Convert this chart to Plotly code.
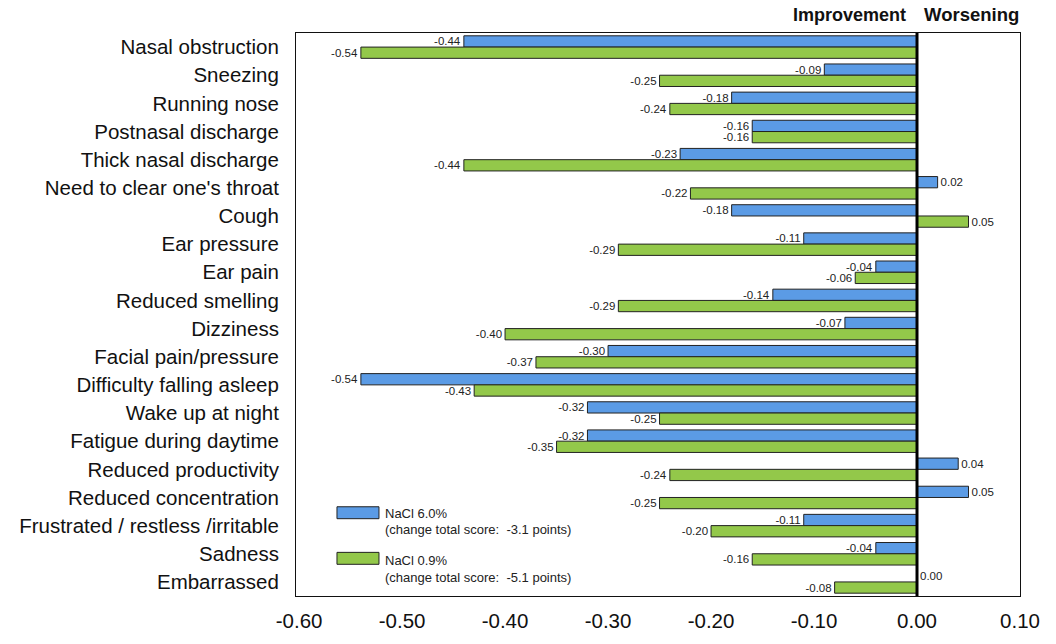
import plotly.graph_objects as go

categories = [
    "Nasal obstruction", "Sneezing", "Running nose", "Postnasal discharge",
    "Thick nasal discharge", "Need to clear one's throat", "Cough", "Ear pressure",
    "Ear pain", "Reduced smelling", "Dizziness", "Facial pain/pressure",
    "Difficulty falling asleep", "Wake up at night", "Fatigue during daytime",
    "Reduced productivity", "Reduced concentration", "Frustrated / restless /irritable",
    "Sadness", "Embarrassed",
]
nacl_60 = [-0.44, -0.09, -0.18, -0.16, -0.23, 0.02, -0.18, -0.11, -0.04, -0.14,
           -0.07, -0.30, -0.54, -0.32, -0.32, 0.04, 0.05, -0.11, -0.04, 0.00]
nacl_09 = [-0.54, -0.25, -0.24, -0.16, -0.44, -0.22, 0.05, -0.29, -0.06, -0.29,
           -0.40, -0.37, -0.43, -0.25, -0.35, -0.24, -0.25, -0.20, -0.16, -0.08]
x_tick_values = [-0.6, -0.5, -0.4, -0.3, -0.2, -0.1, 0.0, 0.1]
x_tick_labels = ["-0.60", "-0.50", "-0.40", "-0.30", "-0.20", "-0.10", "0.00", "0.10"]
series_names = ["NaCl 6.0%", "NaCl 0.9%"]
series_notes = ["(change total score: \u00a0-3.1 points)", "(change total score: \u00a0-5.1 points)"]

BLUE = "#5B9BE5"
GREEN = "#93C84A"
OUTLINE = "#222222"
FONT = "Liberation Sans, Arial, Helvetica, sans-serif"

fig = go.Figure()
for vals, col, name in [(nacl_60, BLUE, series_names[0]), (nacl_09, GREEN, series_names[1])]:
    fig.add_trace(go.Bar(
        y=categories, x=vals, orientation="h", name=name,
        marker=dict(color=col, line=dict(color=OUTLINE, width=1)),
        text=[f"{v:.2f}" for v in vals], textposition="outside",
        textfont=dict(size=11.5, color="#222222", family=FONT),
        cliponaxis=False, constraintext="none",
    ))

fig.update_layout(
    width=1056, height=644,
    margin=dict(l=296, r=36, t=33, b=43),
    barmode="group", bargap=0.2, bargroupgap=0,
    showlegend=False,
    plot_bgcolor="white", paper_bgcolor="white",
    font=dict(family=FONT, color="#111111"),
)
fig.update_yaxes(
    autorange="reversed", tickfont=dict(size=20.5, color="#111111"),
    ticks="outside", ticklen=12, tickcolor="rgba(0,0,0,0)",
    showline=True, mirror=True, linecolor="#111111", linewidth=1, showgrid=False,
)
fig.update_xaxes(
    range=[-0.603, 0.1], tickvals=x_tick_values, ticktext=x_tick_labels,
    tickfont=dict(size=20.5, color="#111111"),
    ticks="outside", ticklen=6, tickcolor="rgba(0,0,0,0)",
    showline=True, mirror=True, linecolor="#111111", linewidth=1,
    showgrid=False, zeroline=False,
)

# thick zero line
fig.add_shape(type="line", xref="x", yref="paper", x0=0, x1=0, y0=0, y1=1,
              line=dict(color="black", width=3), layer="above")

# header annotations
fig.add_annotation(text="<b>Improvement</b>", xref="x", yref="paper", x=0, y=1.032,
                   xanchor="right", yanchor="middle", xshift=-9, showarrow=False,
                   font=dict(size=18, color="#111111"))
fig.add_annotation(text="<b>Worsening</b>", xref="x", yref="paper", x=0, y=1.032,
                   xanchor="left", yanchor="middle", xshift=5, showarrow=False,
                   font=dict(size=18.5, color="#111111"))

# custom legend
legend_rows = [
    (BLUE, 0.1585, 0.1373, 0.1461, 0.1180),
    (GREEN, 0.0775, 0.0563, 0.0634, 0.0335),
]
for (col, ytop, ybot, yname, ynote), name, note in zip(legend_rows, series_names, series_notes):
    fig.add_shape(type="rect", xref="paper", yref="paper", x0=0.0566, x1=0.1146,
                  y0=ybot, y1=ytop, fillcolor=col, line=dict(color=OUTLINE, width=1))
    fig.add_annotation(text=name, xref="paper", yref="paper", x=0.1202, y=yname,
                       xanchor="left", yanchor="middle", showarrow=False,
                       font=dict(size=13, color="#222222"))
    fig.add_annotation(text=note, xref="paper", yref="paper", x=0.1202, y=ynote,
                       xanchor="left", yanchor="middle", showarrow=False,
                       font=dict(size=13, color="#222222"))

fig.write_html("out.html", config={"displayModeBar": False},
               post_script="document.body.style.margin='0px';document.body.style.overflow='hidden';")
